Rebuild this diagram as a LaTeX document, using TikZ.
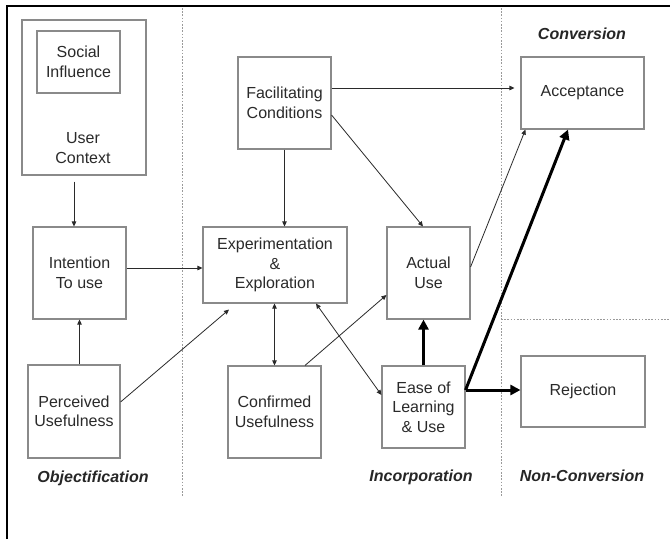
\documentclass[tikz,border=0pt]{standalone}
\usepackage{fontspec}
\setmainfont{Liberation Sans}
\usetikzlibrary{arrows.meta,calc}
\definecolor{boxgray}{HTML}{8A8A8A}
\definecolor{inkgray}{HTML}{2A2A2A}
\definecolor{dotgray}{HTML}{9A9A9A}
\tikzset{
  box/.style={draw=boxgray,line width=1.1pt,inner sep=0pt,align=center,text=inkgray,
    font=\fontsize{16}{19.5}\selectfont},
  plain/.style={inner sep=0pt,align=center,text=inkgray,font=\fontsize{16}{19.5}\selectfont},
  phase/.style={inner sep=0pt,text=black!85,font=\fontsize{16}{19.5}\selectfont\bfseries\itshape},
  arr/.style={draw=inkgray,line width=0.8pt,-{Triangle[length=5pt,width=4.5pt]}},
  darr/.style={draw=inkgray,line width=0.8pt,{Triangle[length=5pt,width=4.5pt]}-{Triangle[length=5pt,width=4.5pt]}},
  thick arr/.style={draw=black,line width=3pt,-{Triangle[length=10pt,width=10pt]}},
  sep/.style={draw=dotgray,line width=0.9pt,dash pattern=on 1.6pt off 1.6pt},
}
\begin{document}
\begin{tikzpicture}[x=1pt,y=-1pt]
\useasboundingbox (0,0) rectangle (670,539);
\fill[white] (0,0) rectangle (670,539);
% outer frame (left and top)
\draw[line width=2.2pt,black] (7,539) -- (7,6) -- (670,6);
% separators
\draw[sep] (182,8) -- (182,497);
\draw[sep] (501,8) -- (501,497);
\draw[sep] (501,319) -- (670,319);
% boxes
\node[box,minimum width=124pt,minimum height=155pt] (uc) at (84,97.5) {};
\node[box,minimum width=83pt,minimum height=62pt] (si) at (78.5,62) {Social\\Influence};
\node[plain] (uct) at (83,148) {User\\Context};
\node[box,minimum width=93pt,minimum height=92pt] (it) at (79.5,273) {Intention\\To use};
\node[box,minimum width=92pt,minimum height=93pt] (pu) at (74,411.5) {Perceived\\Usefulness};
\node[box,minimum width=93pt,minimum height=92pt] (fc) at (284.5,103) {Facilitating\\Conditions};
\node[box,minimum width=144pt,minimum height=76pt] (ee) at (275,265) {Experimentation\\\&\\Exploration};
\node[box,minimum width=93pt,minimum height=92pt] (cu) at (274.5,412) {Confirmed\\Usefulness};
\node[box,minimum width=83pt,minimum height=92pt] (au) at (428.5,273) {Actual\\Use};
\node[box,minimum width=83pt,minimum height=82pt] (el) at (423.5,407) {Ease of\\Learning\\\& Use};
\node[box,minimum width=123pt,minimum height=72pt] (ac) at (582.5,93) {Acceptance};
\node[box,minimum width=124pt,minimum height=71pt] (rj) at (583,391.5) {Rejection};
% phase labels
\node[phase] (l1) at (93,478) {Objectification};
\node[phase] (l2) at (421,477) {Incorporation};
\node[phase] (l3) at (582,476) {Non-Conversion};
\node[phase] (l4) at (582,34) {Conversion};
% thin connectors
\draw[arr,shorten <=6pt] ([xshift=-5.5pt]it.north |- uc.south) -- ([xshift=-5.5pt]it.north);
\draw[arr] ([yshift=5pt]it.east) -- ([yshift=5pt]it.east -| ee.west);
\draw[arr] (it.south |- pu.north) -- (it.south);
\draw[arr] ([yshift=9.5pt]pu.east) -- ([xshift=-46pt,yshift=-6pt]ee.south);
\draw[arr] (fc.south) -- (fc.south |- ee.north);
\draw[arr,shorten >=6pt] ([yshift=15pt]fc.east) -- ([yshift=15pt]fc.east -| ac.west);
\draw[arr] ([yshift=-12pt]fc.east) -- ([xshift=-5.5pt]au.north);
\draw[darr] (cu.north |- ee.south) -- (cu.north);
\draw[arr] ([xshift=30.5pt]cu.north) -- ([yshift=-22pt]au.west);
\draw[darr] ([xshift=41pt]ee.south) -- ([yshift=12pt]el.west);
\draw[arr] ([yshift=6pt]au.east) -- ([xshift=5pt]ac.south west);
% thick connectors
\draw[thick arr] (el.north) -- (el.north |- au.south);
\draw[thick arr] ([yshift=17pt]el.east) -- ([xshift=-14.5pt]ac.south);
\draw[thick arr] ([yshift=17pt]el.east) -- ([yshift=17pt]el.east -| rj.west);
\end{tikzpicture}
\end{document}
